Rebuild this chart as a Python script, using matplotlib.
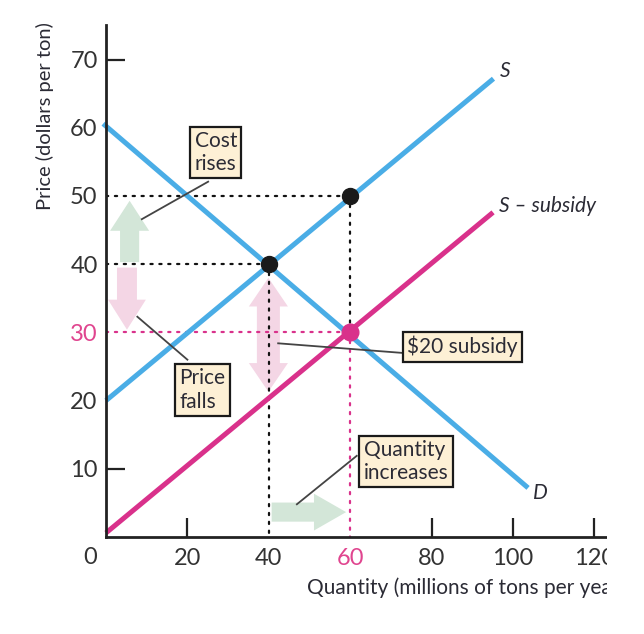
import matplotlib
matplotlib.use("Agg")
import matplotlib.pyplot as plt
from matplotlib.patches import Polygon, Rectangle

plt.rcParams['font.family'] = ['Lato', 'DejaVu Sans']

# ---------------- data ----------------
supply_q = [0, 95.2]
supply_p = [20, 67.2]
subsidy_q = [0, 95.1]
subsidy_p = [0.6, 47.6]
demand_q = [-0.7, 103.7]
demand_p = [60.6, 7.2]

eq_before = (40, 40)        # equilibrium without subsidy
producer_price = (60, 50)   # price received by producers with subsidy
eq_after = (60, 30)         # equilibrium with subsidy

x_ticks = [20, 40, 60, 80, 100, 120]
y_ticks = [10, 20, 30, 40, 50, 60, 70]
pink_ticks_x = [60]
pink_ticks_y = [30]

BLUE = '#4AADE6'
PINK = '#D9318B'
GREEN_A = '#D3E6D8'
PINK_A = '#F4D6E5'
BOX = '#FDF0D5'
TXT = '#2B2B35'
PINK_T = '#E0458F'

W, H = 644, 634
fig = plt.figure(figsize=(W / 100, H / 100), dpi=100)
ax_l, ax_r, ax_b, ax_t = 106, 607, 537, 25
XS, YS = 4.07, 6.82
ax = fig.add_axes([ax_l / W, 1 - ax_b / H, (ax_r - ax_l) / W, (ax_b - ax_t) / H])
ax.set_xlim(0, (ax_r - ax_l) / XS)
ax.set_ylim(0, (ax_b - ax_t) / YS)

for s in ['top', 'right']:
    ax.spines[s].set_visible(False)
for s in ['left', 'bottom']:
    ax.spines[s].set_linewidth(2.0)
    ax.spines[s].set_color('#222222')
    ax.spines[s].set_zorder(6)


def block_arrow(x0, y0, x1, y1, shaft, head_w, head_l, color, double=False):
    """Axis-aligned block arrow from (x0,y0) to (x1,y1) in data units."""
    if x0 == x1:  # vertical
        d = 1 if y1 > y0 else -1
        c = x0
        s, hw = shaft / 2, head_w / 2
        if double:
            pts = [(c, y0), (c - hw, y0 + d * head_l), (c - s, y0 + d * head_l),
                   (c - s, y1 - d * head_l), (c - hw, y1 - d * head_l), (c, y1),
                   (c + hw, y1 - d * head_l), (c + s, y1 - d * head_l),
                   (c + s, y0 + d * head_l), (c + hw, y0 + d * head_l)]
        else:
            pts = [(c - s, y0), (c - s, y1 - d * head_l), (c - hw, y1 - d * head_l),
                   (c, y1), (c + hw, y1 - d * head_l), (c + s, y1 - d * head_l),
                   (c + s, y0)]
    else:
        d = 1 if x1 > x0 else -1
        c = y0
        s, hw = shaft / 2, head_w / 2
        pts = [(x0, c - s), (x1 - d * head_l, c - s), (x1 - d * head_l, c - hw),
               (x1, c), (x1 - d * head_l, c + hw), (x1 - d * head_l, c + s),
               (x0, c + s)]
    ax.add_patch(Polygon(pts, closed=True, fc=color, ec='none', zorder=1))


# block arrows
block_arrow(5.8, 40.3, 5.8, 49.3, 4.7, 9.6, 4.4, GREEN_A)
block_arrow(5.15, 39.5, 5.15, 30.4, 4.9, 9.3, 4.4, PINK_A)
block_arrow(39.9, 21.3, 39.9, 38.0, 5.65, 9.6, 4.2, PINK_A, double=True)
block_arrow(40.7, 3.65, 59.0, 3.65, 2.8, 5.4, 7.9, GREEN_A)

# dotted guide lines
dot = dict(lw=1.6, linestyle=(0, (1, 3)), zorder=2, dash_capstyle='round')
ax.plot([0, producer_price[0]], [producer_price[1]] * 2, color='#111111', **dot)
ax.plot([producer_price[0]] * 2, [producer_price[1], eq_after[1]], color='#111111', **dot)
ax.plot([0, eq_before[0]], [eq_before[1]] * 2, color='#111111', **dot)
ax.plot([eq_before[0]] * 2, [eq_before[1], 0], color='#111111', **dot)
ax.plot([0, eq_after[0]], [eq_after[1]] * 2, color=PINK, **dot)
ax.plot([eq_after[0]] * 2, [eq_after[1], 0], color=PINK, **dot)

# curves
ax.plot(subsidy_q, subsidy_p, color=PINK, lw=3.6, solid_capstyle='butt', zorder=3, clip_on=False)
ax.plot(supply_q, supply_p, color=BLUE, lw=3.6, solid_capstyle='butt', zorder=3, clip_on=False)
ax.plot(demand_q, demand_p, color=BLUE, lw=3.6, solid_capstyle='butt', zorder=3, clip_on=False)

# points
ax.plot(*eq_before, 'o', ms=11.5, color='#1a1a1a', zorder=5)
ax.plot(*producer_price, 'o', ms=11.5, color='#1a1a1a', zorder=5)
ax.plot(*eq_after, 'o', ms=12, color=PINK, zorder=5)

# curve labels
ax.text(98.0, 68.4, 'S', style='italic', fontsize=15, color=TXT, ha='center', va='center')
ax.text(96.6, 48.6, 'S – subsidy', style='italic', fontsize=15, color=TXT, ha='left', va='center')
ax.text(106.6, 6.4, 'D', style='italic', fontsize=15, color=TXT, ha='center', va='center')

# leader lines
lead = dict(color='#444444', lw=1.3, zorder=7)
ax.plot([25.1, 8.8], [52.1, 46.6], **lead)
ax.plot([20.0, 7.7], [26.0, 32.3], **lead)
ax.plot([72.65, 42.3], [27.0, 28.4], **lead)
ax.plot([61.6, 46.9], [11.9, 4.8], **lead)

# boxes
bbox = dict(boxstyle='square,pad=0.2', fc=BOX, ec='#1a1a1a', lw=1.6)
ax.text(27.0, 56.35, 'Cost\nrises', fontsize=15, color=TXT, ha='center', va='center',
        multialignment='left', linespacing=1.2, bbox=bbox, zorder=8)
ax.text(23.7, 21.55, 'Price\nfalls', fontsize=15, color=TXT, ha='center', va='center',
        multialignment='left', linespacing=1.2, bbox=bbox, zorder=8)
ax.text(87.6, 27.9, '$20 subsidy', fontsize=15, color=TXT, ha='center', va='center',
        bbox=bbox, zorder=8)
ax.text(73.7, 11.05, 'Quantity\nincreases', fontsize=15, color=TXT, ha='center', va='center',
        multialignment='left', linespacing=1.2, bbox=bbox, zorder=8)

# ticks
ax.set_xticks(x_ticks)
ax.set_xticklabels([str(v) for v in x_ticks])
ax.set_yticks(y_ticks)
ax.set_yticklabels([str(v) for v in y_ticks])
ax.tick_params(direction='in', length=14, width=1.6, color='#222222', labelsize=17,
               labelcolor='#333333')
ax.tick_params(axis='x', pad=8)
ax.tick_params(axis='y', pad=6)
for v, t in zip(x_ticks, ax.xaxis.get_major_ticks()):
    if v in (40, 60):
        t.tick1line.set_visible(False)
    if v in pink_ticks_x:
        t.label1.set_color(PINK_T)
for v, t in zip(y_ticks, ax.yaxis.get_major_ticks()):
    if v not in (10, 70):
        t.tick1line.set_visible(False)
    if v in pink_ticks_y:
        t.label1.set_color(PINK_T)

fig.text(90 / W, 1 - 557 / H, '0', fontsize=17, color='#333333', ha='center', va='center')

# axis titles
fig.text(45 / W, 1 - 116 / H, 'Price (dollars per ton)', rotation=90, fontsize=14.5,
         color=TXT, ha='center', va='center')
fig.text(307 / W, 1 - 588 / H, 'Quantity (millions of tons per year)', fontsize=15,
         color=TXT, ha='left', va='center')

# crop at right like the reference
fig.patches.append(Rectangle((ax_r / W, 0), 1, 1, transform=fig.transFigure,
                             fc='white', ec='none', zorder=20))

fig.savefig('out.png', dpi=100, facecolor='white')
